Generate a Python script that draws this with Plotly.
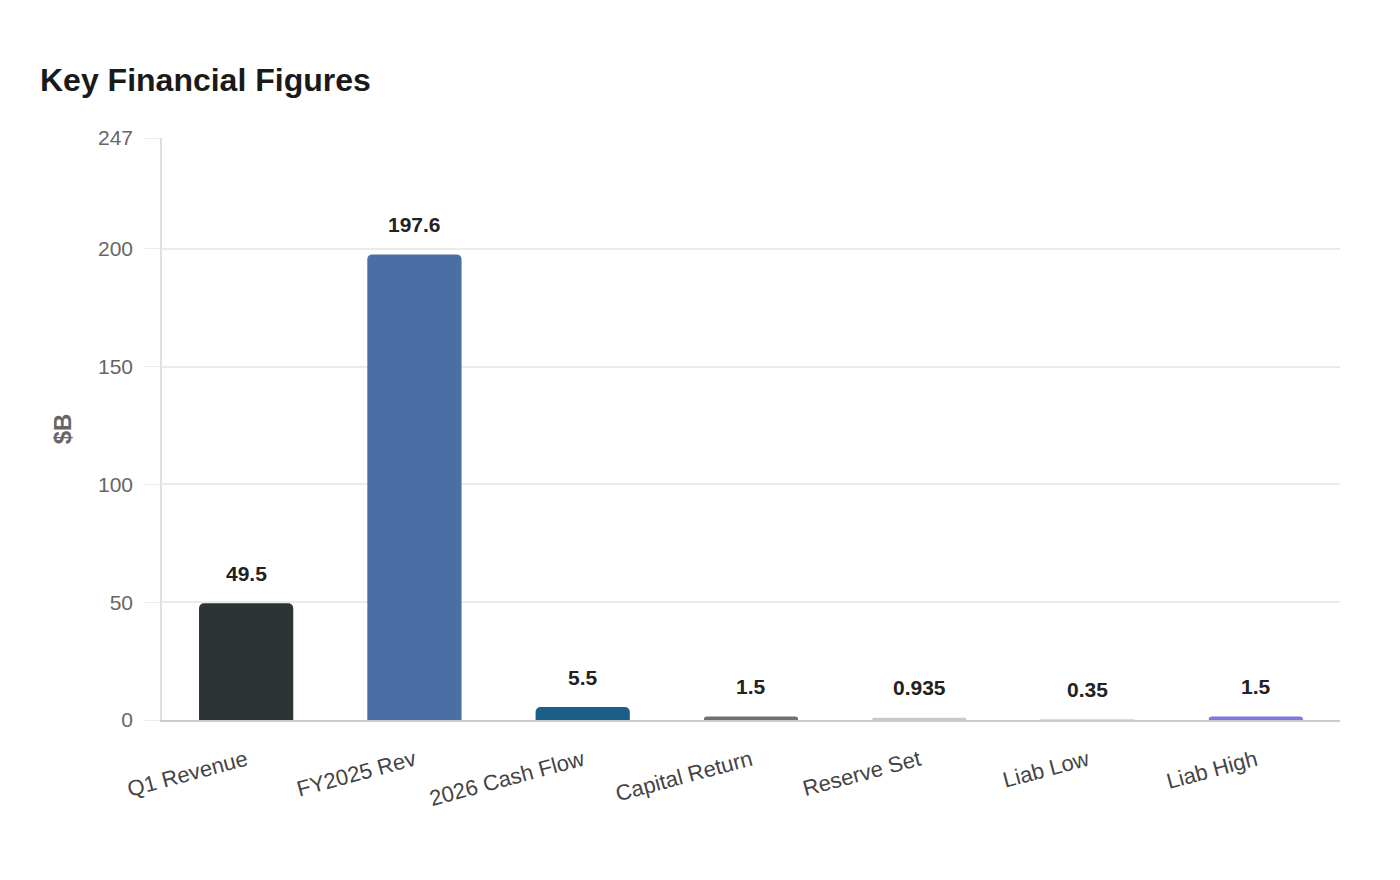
import plotly.graph_objects as go

categories = ["Q1 Revenue", "FY2025 Rev", "2026 Cash Flow", "Capital Return", "Reserve Set", "Liab Low", "Liab High"]
values = [49.5, 197.6, 5.5, 1.5, 0.935, 0.35, 1.5]
labels = ["49.5", "197.6", "5.5", "1.5", "0.935", "0.35", "1.5"]
bar_colors = ["#2d3436", "#4a6fa5", "#1a5f87", "#707070", "#c8c8c8", "#dcdcdc", "#8078e0"]
y_ticks = [0, 50, 100, 150, 200, 247]

fig = go.Figure()
fig.add_trace(
    go.Bar(
        x=categories,
        y=values,
        marker=dict(color=bar_colors, line=dict(width=0), cornerradius=5),
        width=0.56,
        hoverinfo="x+y",
    )
)

for cat, val, lab in zip(categories, values, labels):
    fig.add_annotation(
        x=cat,
        y=val,
        text=f"<b>{lab}</b>",
        showarrow=False,
        yanchor="middle",
        yshift=30,
        font=dict(family="Liberation Sans, Arial, sans-serif", size=21, color="#222222"),
    )

# page body adds ~8px offset, so margins are trimmed to compensate
fig.update_layout(
    width=1400,
    height=880,
    paper_bgcolor="white",
    plot_bgcolor="white",
    margin=dict(l=154, r=68, t=130, b=168),
    showlegend=False,
    font=dict(family="Liberation Sans, Arial, sans-serif"),
    title=dict(
        text="<b>Key Financial Figures</b>",
        x=32 / 1400,
        xanchor="left",
        y=1 - 72 / 880,
        yanchor="middle",
        font=dict(size=32, color="#1a1a1a"),
    ),
)

fig.update_yaxes(
    range=[0, 247],
    tickvals=y_ticks,
    ticktext=[str(v) for v in y_ticks],
    showgrid=True,
    gridcolor="#ebebeb",
    gridwidth=1.5,
    zeroline=False,
    showline=True,
    linecolor="#e0e0e0",
    linewidth=1.5,
    ticks="outside",
    ticklen=15,
    tickcolor="#ebebeb",
    ticklabelstandoff=8,
    tickfont=dict(size=21, color="#666666"),
    title=dict(text="<b>$B</b>", font=dict(size=24, color="#666666"), standoff=20),
)

fig.update_xaxes(
    showline=True,
    linecolor="#cccccc",
    linewidth=2,
    ticks="",
    tickangle=-15,
    ticklabelstandoff=17,
    tickfont=dict(size=22, color="#444444"),
)

fig.write_html("out.html")
